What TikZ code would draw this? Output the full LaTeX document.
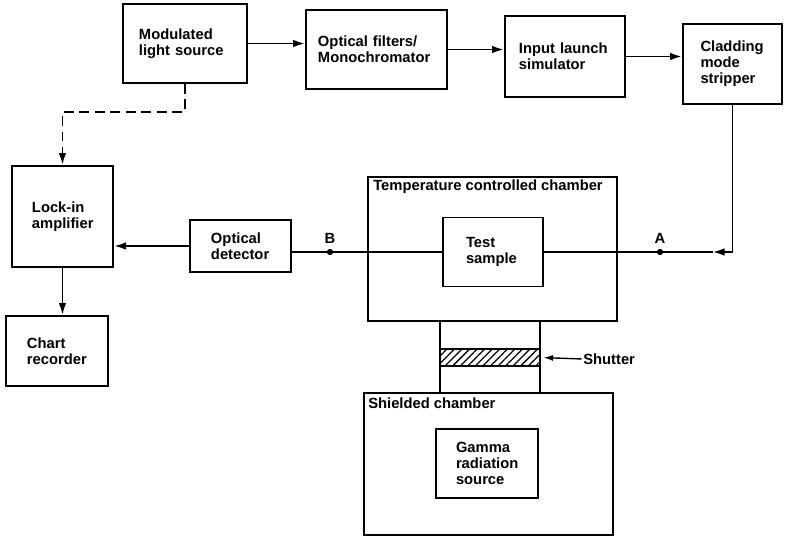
\documentclass[tikz,border=0pt]{standalone}
\usepackage{fontspec}
\setmainfont{Liberation Sans}
\usetikzlibrary{arrows.meta,positioning,patterns.meta}

\begin{document}
\begin{tikzpicture}[
  x=0.025cm, y=-0.025cm,
  every node/.style={font=\fontsize{10.5}{11.5}\selectfont\bfseries},
  blk/.style={draw, line width=1.4pt, align=left, inner ysep=2pt},
  chamber/.style={draw, line width=1.4pt, inner sep=0pt},
  arrow/.style={-{Latex[length=3mm,width=1.9mm]}, line width=1.4pt},
  dasharrow/.style={arrow, dash pattern=on 7pt off 4pt},
  dot/.style={circle, fill, inner sep=0pt, minimum size=4.5pt}
]
\useasboundingbox (0,0) rectangle (786,539);
% top row
\node[blk, text width=2.3cm, inner xsep=0.4cm, minimum height=1.975cm] (mls) at (185,43.5) {Modulated\\light source};
\node[blk, text width=2.925cm, inner xsep=0.3cm, minimum height=1.975cm] (filt) at (376.5,49.5) {Optical filters/\\Monochromator};
\node[blk, text width=2.3cm, inner xsep=0.35cm, minimum height=2.025cm] (launch) at (565,56.5) {Input launch\\simulator};
\node[blk, text width=1.6cm, inner xsep=0.4375cm, minimum height=2cm] (strip) at (732.5,64) {Cladding\\mode\\stripper};
% left column
\node[blk, text width=1.525cm, inner xsep=0.5cm, minimum height=2.525cm] (lockin) at (62.5,216.5) {Lock-in\\amplifier};
\node[blk, text width=1.5cm, inner xsep=0.525cm, minimum height=1.75cm] (chart) at (57,351) {Chart\\recorder};
\node[blk, text width=1.475cm, inner xsep=0.525cm, minimum height=1.3cm] (det) at (240.5,246) {Optical\\detector};
% chambers
\node[chamber, minimum width=6.225cm, minimum height=3.6cm] (tcc) at (492.5,249) {};
\node[anchor=base west, inner sep=0pt] (tcctitle) at (373,190) {Temperature controlled chamber};
\node[blk, text width=1.35cm, inner xsep=0.575cm, minimum height=1.725cm] (test) at (493,252) {Test\\sample};
\node[chamber, minimum width=6.225cm, minimum height=3.55cm] (shc) at (488.5,464) {};
\node[anchor=base west, inner sep=0pt] (shctitle) at (368,408) {Shielded chamber};
\node[blk, text width=1.55cm, inner xsep=0.5cm, minimum height=1.725cm] (gamma) at (487,463.5) {Gamma\\radiation\\source};
% shutter between the chambers
\node[chamber, minimum width=2.5cm, minimum height=1.8cm] (col) at (490,357) {};
\node[chamber, minimum width=2.5cm, minimum height=0.425cm,
  pattern={Lines[angle=45,distance=3.8pt,line width=0.9pt]}] (shutter) at (490,357.5) {};
\node[anchor=west, inner sep=0pt] (shlab) at (583,359) {Shutter};
\draw[-{Latex[length=2.4mm,width=1.5mm]}, line width=1pt, shorten <=1pt, shorten >=2pt] (shlab.west) -- (shutter.east);
% light path
\draw[arrow] (mls.east) -- (mls.east -| filt.west);
\draw[arrow] (filt.east) -- (filt.east -| launch.west);
\draw[arrow] (launch.east) -- (launch.east -| strip.west);
\coordinate (turn) at (strip.south |- test.east);
\coordinate (tipA) at ([xshift=-0.5cm]turn);
\draw[arrow] (strip.south) -- (turn) -- (tipA);
\draw[line width=1.4pt] (tipA) -- (test.east);
\node[dot] (ptA) at (660,252) {};
\node[above=0pt of ptA] (labA) {A};
\draw[line width=1.4pt] (test.west) -- (test.west -| det.east);
\node[dot] (ptB) at (330,252) {};
\node[above=0pt of ptB] (labB) {B};
\draw[arrow] (det.west) -- (det.west -| lockin.east);
\draw[dasharrow] (mls.south) -- ++(0,28) -| (lockin.north);
\draw[arrow] (lockin.south) -- (lockin.south |- chart.north);
\end{tikzpicture}
\end{document}
